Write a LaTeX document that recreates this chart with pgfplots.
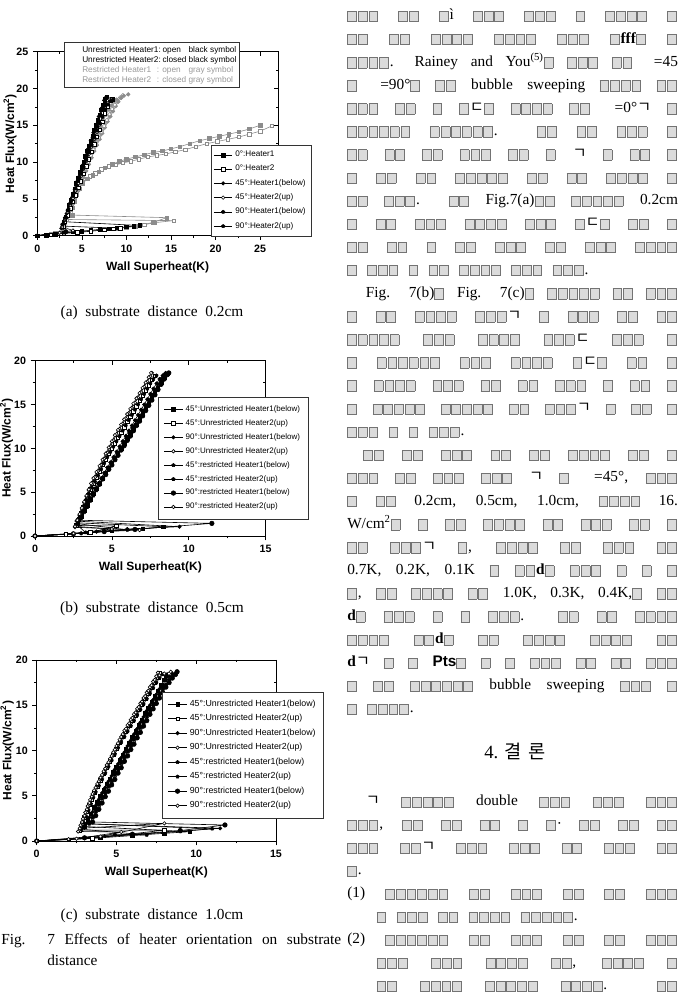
\documentclass[border=0pt]{standalone}
\usepackage{fontspec}
\setmainfont{Liberation Serif}
\setsansfont{Liberation Sans}
\newfontfamily\kr{Noto Sans CJK KR}
\usepackage{pgfplots}
\pgfplotsset{compat=1.18}
\usetikzlibrary{plotmarks}
\definecolor{gr}{gray}{0.55}
\definecolor{boxc}{gray}{0.45}
\definecolor{boxf}{gray}{0.86}
\newcommand\tb{\raisebox{-1pt}{\setlength\fboxsep{0pt}\setlength\fboxrule{0.45pt}\fcolorbox{boxc}{boxf}{\rule{0pt}{7.4pt}\hspace{6.2pt}}}\hspace{0.9pt}}
\ExplSyntaxOn
\cs_new:Npn \TT #1 { \prg_replicate:nn {#1} { \tb } }
\ExplSyntaxOff
\newcommand\cf{\fontsize{11.5}{13}\selectfont}
\newcommand\rf{\fontsize{11.5}{13}\selectfont\spaceskip=7pt plus 20pt minus 2pt\relax}
\newcommand\RL[2]{\node[anchor=base west,inner sep=0pt,font=\rf] at ({347*0.75pt},{(999-#1)*0.75pt}) {\makebox[248pt][s]{#2}};}
\newcommand\RN[2]{\node[anchor=base west,inner sep=0pt,font=\rf] at ({347*0.75pt},{(999-#1)*0.75pt}) {#2};}
\newcommand\TX[4][]{\node[inner sep=0pt,#1] at ({#2*0.75pt},{(999-#3)*0.75pt}) {#4};}
\pgfplotsset{
 base/.style={scale only axis, anchor=south west, xmin=0, ymin=0,
  axis line style={line width=0.6pt},
  tick align=outside, tick pos=left, minor tick num=1,
  major tick length=3.2pt, minor tick length=1.8pt,
  every tick/.style={black, line width=0.5pt},
  tick label style={font=\sffamily\bfseries\fontsize{8}{9}\selectfont},
  /pgf/number format/assume math mode=true,
  label style={font=\sffamily\bfseries\fontsize{9}{10}\selectfont},
  xlabel={Wall Superheat(K)}, ylabel={Heat Flux(W/cm\textsuperscript{2})},
  every axis y label/.style={at={(axis description cs:-0.118,0.5)}, rotate=90, anchor=center, font=\sffamily\bfseries\fontsize{9}{10}\selectfont},
  every axis plot/.append style={line width=0.45pt, mark size=1.3pt},
  legend cell align=left,
  legend image code/.code={\draw[mark repeat=2,mark phase=2,##1] plot coordinates {(0pt,0pt) (7pt,0pt) (14pt,0pt)};},
 },
 mirror/.style={scale only axis, anchor=south west, xmin=0, ymin=0,
  axis x line*=top, axis y line*=right, axis line style={draw=none},
  tick align=inside, minor tick num=1, major tick length=3.2pt, minor tick length=1.8pt,
  every tick/.style={black, line width=0.5pt}, xticklabels={}, yticklabels={}},
 mA/.style={mark=square*},
 mB/.style={mark=square*, mark options={fill=white}},
 mC/.style={mark=*},
 mD/.style={mark=*, mark options={fill=white}},
 mE/.style={mark=pentagon*},
 mF/.style={mark=pentagon*, mark options={fill=white}},
 mG/.style={mark=*, mark size=1.7pt},
}
\begin{document}
\begin{tikzpicture}
\path[use as bounding box] (0,0) rectangle (509.25pt,749.25pt);
% ---------------- (a) ----------------
\begin{axis}[mirror, at={(27.98pt,572.48pt)}, width=180.5pt, height=138pt, xmax=27, ymax=25, xtick={0,5,...,25}, ytick={0,5,...,25}]
\end{axis}
\begin{axis}[base, at={(27.98pt,572.48pt)}, width=180.5pt, height=138pt, xmax=27, ymax=25,
 xtick={0,5,...,25}, ytick={0,5,...,25},
 every axis y label/.append style={at={(axis description cs:-0.113,0.5)}},
 legend style={at={(0.72,0.493)}, anchor=north west, font=\sffamily\fontsize{6.1}{7}\selectfont, draw=black!80, inner xsep=2pt, inner ysep=2.5pt, row sep=0.8pt}]
% restricted (gray)
\addplot[gr, mB, forget plot] coordinates {(0,0)(1,0.1)(2,0.3)(3,0.45)(4,0.55)(5,0.65)(6,0.7)(7,0.8)(8,0.9)(9,1.0)(10,1.1)(11,1.3)(12,1.5)(13.2,1.77)(15.3,2.05)(3.3,2.2)(3.5,3.0)(3.7,4.0)(3.9,4.9)(4.1,5.7)(4.4,6.5)(4.8,7.2)(5.3,7.7)(5.9,8.1)(6.5,8.5)(7.2,9.0)(8.0,9.4)(8.8,9.6)(9.6,9.9)(10.5,10.1)(11.4,10.4)(12.4,10.7)(13.4,10.9)(14.4,11.1)(15.5,11.4)(16.6,11.7)(17.8,12.1)(19.0,12.5)(20.2,12.8)(21.4,13.1)(22.6,13.4)(23.8,13.8)(25.0,14.2)(26.3,14.9)};
\addplot[gr, mA, forget plot] coordinates {(0,0)(1.5,0.2)(3,0.4)(5,0.6)(7,0.8)(9,1.0)(11,1.3)(13,1.8)(14.5,2.45)(3.9,2.8)(4.0,3.8)(4.2,4.7)(4.4,5.6)(4.7,6.4)(5.1,7.1)(5.6,7.7)(6.2,8.2)(6.9,8.7)(7.6,9.2)(8.4,9.7)(9.2,10.1)(10.0,10.4)(11.0,10.7)(12.0,11.0)(13.0,11.3)(14.0,11.5)(15.0,11.8)(16.0,12.1)(17.1,12.5)(18.2,12.9)(19.3,13.2)(20.4,13.5)(21.5,13.8)(22.6,14.1)(23.8,14.5)(25.0,15.0)};
\addplot[gr, mD, forget plot] coordinates {(0,0)(2,0.3)(3.2,0.8)(3.0,1.4)(3.3,2.4)(3.6,3.3)(3.9,4.2)(4.2,5.1)(4.5,6.0)(4.8,6.9)(5.1,7.8)(5.4,8.7)(5.7,9.6)(6.0,10.5)(6.3,11.4)(6.6,12.3)(6.9,13.1)(7.2,13.9)(7.5,14.7)(7.8,15.5)(8.1,16.3)(8.4,17.0)(8.7,17.7)(9.0,18.3)(9.3,18.8)(9.6,19.1)};
\addplot[gr, mC, forget plot] coordinates {(0,0)(2.5,0.4)(3.1,1.6)(3.4,2.5)(3.7,3.4)(4.0,4.3)(4.3,5.2)(4.6,6.1)(4.9,7.0)(5.2,7.9)(5.5,8.8)(5.8,9.7)(6.1,10.6)(6.4,11.5)(6.7,12.3)(7.0,13.1)(7.3,13.9)(7.6,14.7)(7.9,15.5)(8.2,16.2)(8.5,16.9)(8.8,17.6)(9.1,18.2)(9.4,18.7)(9.7,19.0)(10.2,19.2)};
\addplot[gr, mE, forget plot] coordinates {(0,0)(3.0,0.5)(2.9,1.5)(3.2,2.5)(3.5,3.5)(3.8,4.5)(4.1,5.5)(4.4,6.5)(4.7,7.5)(5.0,8.5)(5.3,9.4)(5.6,10.3)(5.9,11.2)(6.2,12.1)(6.5,13.0)(6.8,13.9)(7.1,14.8)(7.4,15.6)(7.7,16.4)(8.0,17.1)(8.3,17.7)(8.6,18.2)(8.9,18.5)};
\addplot[gr, mF, forget plot] coordinates {(0,0)(3.4,0.7)(3.0,1.7)(3.3,2.7)(3.6,3.7)(3.9,4.6)(4.2,5.5)(4.5,6.4)(4.8,7.3)(5.1,8.2)(5.4,9.1)(5.7,10.0)(6.0,10.9)(6.3,11.7)(6.6,12.5)(6.9,13.3)(7.2,14.1)(7.5,14.9)(7.8,15.7)(8.1,16.5)(8.4,17.2)(8.7,17.8)};
% unrestricted (black)
\addplot[black, mA] coordinates {(0,0)(1,0.08)(2,0.2)(3,0.35)(4,0.5)(5,0.6)(6,0.72)(7,0.85)(8,0.95)(9,1.05)(10,1.2)(10.8,1.3)(11.5,1.38)(3.0,1.9)(3.2,2.6)(3.4,3.4)(3.6,4.1)(3.8,4.9)(4.0,5.6)(4.2,6.4)(4.4,7.1)(4.6,7.9)(4.8,8.6)(5.0,9.3)(5.2,10.0)(5.4,10.8)(5.6,11.5)(5.8,12.2)(6.0,12.9)(6.2,13.6)(6.4,14.3)(6.6,15.0)(6.8,15.7)(7.0,16.4)(7.2,17.1)(7.4,17.8)(7.6,18.5)(7.8,18.8)};
\addlegendentry{0°:Heater1}
\addplot[black, mB] coordinates {(0,0)(1.5,0.15)(3,0.3)(4.5,0.45)(6,0.6)(7.5,0.8)(8.5,0.9)(9.3,1.0)(2.9,1.3)(3.1,1.9)(3.4,2.8)(3.7,3.7)(4.0,4.6)(4.3,5.5)(4.6,6.5)(4.9,7.4)(5.2,8.4)(5.5,9.4)(5.8,10.4)(6.1,11.4)(6.4,12.4)(6.7,13.4)(7.0,14.4)(7.3,15.5)(7.6,16.6)(7.9,17.6)(8.2,18.4)(8.4,18.5)};
\addlegendentry{0°:Heater2}
\addplot[black, mC] coordinates {(0,0)(2,0.2)(3.3,0.5)(2.7,1.0)(3.0,2.0)(3.3,3.0)(3.6,4.1)(3.9,5.2)(4.2,6.3)(4.5,7.4)(4.8,8.5)(5.1,9.6)(5.4,10.7)(5.7,11.8)(6.0,12.9)(6.3,14.0)(6.6,15.1)(6.9,16.2)(7.2,17.3)(7.5,18.4)(7.7,18.8)};
\addlegendentry{45°:Heater1(below)}
\addplot[black, mD] coordinates {(0,0)(2.5,0.4)(4,0.7)(2.8,1.2)(3.1,2.2)(3.4,3.2)(3.7,4.2)(4.0,5.1)(4.3,6.1)(4.6,7.1)(4.9,8.1)(5.2,9.1)(5.5,10.1)(5.8,11.1)(6.1,12.1)(6.4,13.1)(6.7,14.1)(7.0,15.1)(7.3,16.1)(7.6,17.1)(7.9,18.0)(8.1,18.5)};
\addlegendentry{45°:Heater2(up)}
\addplot[black, mE] coordinates {(0,0)(3,0.4)(2.8,1.5)(3.1,2.4)(3.4,3.4)(3.7,4.4)(4.0,5.4)(4.3,6.4)(4.6,7.4)(4.9,8.4)(5.2,9.3)(5.5,10.3)(5.8,11.3)(6.1,12.3)(6.4,13.3)(6.7,14.3)(7.0,15.3)(7.3,16.2)(7.6,17.1)(7.9,17.8)(8.2,18.3)(8.5,18.5)};
\addlegendentry{90°:Heater1(below)}
\addplot[black, mE] coordinates {(0,0)(3.2,0.6)(2.9,1.6)(3.2,2.5)(3.5,3.6)(3.8,4.7)(4.1,5.8)(4.4,6.9)(4.7,8.0)(5.0,9.0)(5.3,10.1)(5.6,11.2)(5.9,12.3)(6.2,13.3)(6.5,14.4)(6.8,15.4)(7.1,16.4)(7.4,17.3)(7.6,18.0)};
\addlegendentry{90°:Heater2(up)}
\end{axis}
\draw[black!80, line width=0.5pt, fill=white] ({64*0.75pt},{(999-42)*0.75pt}) rectangle ({239*0.75pt},{(999-87)*0.75pt});
\begin{scope}[every node/.style={anchor=base west, inner sep=0pt, font=\sffamily\fontsize{6.2}{7}\selectfont}]
\node at ({82*0.75pt},{(999-53)*0.75pt}) {Unrestricted Heater1:};
\node at ({162.3*0.75pt},{(999-53)*0.75pt}) {open};
\node at ({188.3*0.75pt},{(999-53)*0.75pt}) {black symbol};
\node at ({82*0.75pt},{(999-63)*0.75pt}) {Unrestricted Heater2:};
\node at ({162.3*0.75pt},{(999-63)*0.75pt}) {closed black symbol};
\node[black!40] at ({82*0.75pt},{(999-73)*0.75pt}) {Restricted Heater1};
\node[black!40] at ({156.7*0.75pt},{(999-73)*0.75pt}) {: open};
\node[black!40] at ({188.3*0.75pt},{(999-73)*0.75pt}) {gray symbol};
\node[black!40] at ({82*0.75pt},{(999-83)*0.75pt}) {Restricted Heater2};
\node[black!40] at ({156.7*0.75pt},{(999-83)*0.75pt}) {: closed gray symbol};
\end{scope}
% ---------------- (b) ----------------
\begin{axis}[mirror, at={(26.25pt,347.25pt)}, width=173pt, height=131.5pt, xmax=15, ymax=20, xtick={0,5,10,15}, ytick={0,5,...,20}]
\end{axis}
\begin{axis}[base, at={(26.25pt,347.25pt)}, width=173pt, height=131.5pt, xmax=15, ymax=20,
 xtick={0,5,10,15}, ytick={0,5,...,20},
 every axis y label/.append style={at={(axis description cs:-0.123,0.5)}},
 legend style={at={(0.534,0.791)}, anchor=north west, font=\sffamily\fontsize{6}{7}\selectfont, draw=black!80, inner xsep=4pt, inner ysep=4pt, row sep=0.6pt}]
\addplot[black, mA] coordinates {(0,0)(2,0.2)(3.5,0.35)(5,0.6)(7,0.8)(8.35,1.06)(2.8,1.5)(3.0,2.2)(3.2,2.9)(3.4,3.5)(3.6,4.2)(3.8,4.8)(4.0,5.4)(4.2,6.0)(4.4,6.6)(4.6,7.2)(4.8,7.8)(5.0,8.3)(5.2,8.9)(5.4,9.4)(5.6,10.0)(5.8,10.5)(6.0,11.1)(6.2,11.6)(6.4,12.2)(6.6,12.7)(6.8,13.3)(7.0,13.9)(7.2,14.5)(7.4,15.1)(7.6,15.7)(7.8,16.3)(8.0,16.9)(8.2,17.5)(8.4,18.1)(8.6,18.5)};
\addlegendentry{45°:Unrestricted Heater1(below)}
\addplot[black, mB] coordinates {(0,0)(2,0.2)(3.6,0.4)(5.3,1.14)(2.7,1.2)(2.85,1.9)(3.0,2.6)(3.15,3.3)(3.3,4.0)(3.45,4.7)(3.6,5.3)(3.8,6.0)(4.0,6.7)(4.2,7.4)(4.4,8.1)(4.6,8.7)(4.8,9.4)(5.0,10.0)(5.2,10.6)(5.4,11.2)(5.6,11.8)(5.8,12.4)(6.0,13.0)(6.2,13.6)(6.4,14.2)(6.6,14.8)(6.8,15.4)(7.0,16.0)(7.2,16.6)(7.4,17.2)(7.6,17.8)(7.8,18.3)};
\addlegendentry{45°:Unrestricted Heater2(up)}
\addplot[black, mC] coordinates {(0,0)(2.5,0.25)(4,0.5)(6,0.8)(9.4,1.06)(2.7,1.7)(2.9,2.3)(3.1,3.0)(3.3,3.6)(3.5,4.2)(3.7,4.8)(3.9,5.4)(4.1,6.0)(4.3,6.6)(4.5,7.2)(4.7,7.8)(4.9,8.4)(5.1,9.0)(5.3,9.6)(5.5,10.2)(5.7,10.8)(5.9,11.4)(6.1,12.0)(6.3,12.6)(6.5,13.2)(6.7,13.8)(6.9,14.4)(7.1,15.0)(7.3,15.6)(7.5,16.2)(7.7,16.8)(7.9,17.4)(8.1,17.9)(8.3,18.3)(8.5,18.6)};
\addlegendentry{90°:Unrestricted Heater1(below)}
\addplot[black, mD] coordinates {(0,0)(3,0.3)(4.5,0.5)(6.8,0.68)(2.6,1.0)(2.75,1.7)(2.9,2.4)(3.05,3.1)(3.2,3.8)(3.35,4.5)(3.5,5.2)(3.7,5.9)(3.9,6.7)(4.1,7.4)(4.3,8.1)(4.5,8.8)(4.7,9.5)(4.9,10.2)(5.1,10.9)(5.3,11.6)(5.5,12.2)(5.7,12.8)(5.9,13.4)(6.1,14.0)(6.3,14.6)(6.5,15.2)(6.7,15.8)(6.9,16.4)(7.1,17.0)(7.3,17.6)(7.5,18.2)(7.6,18.6)};
\addlegendentry{90°:Unrestricted Heater2(up)}
\addplot[black, mE] coordinates {(0,0)(3,0.3)(5,0.6)(6,0.7)(2.8,1.4)(3.0,2.0)(3.2,2.7)(3.4,3.3)(3.6,4.0)(3.8,4.6)(4.0,5.2)(4.2,5.9)(4.4,6.5)(4.6,7.1)(4.8,7.7)(5.0,8.3)(5.2,8.9)(5.4,9.5)(5.6,10.1)(5.8,10.7)(6.0,11.3)(6.2,11.9)(6.4,12.5)(6.6,13.1)(6.8,13.7)(7.0,14.3)(7.2,14.9)(7.4,15.5)(7.6,16.1)(7.8,16.7)(8.0,17.3)(8.2,17.9)(8.4,18.4)};
\addlegendentry{45°:restricted Heater1(below)}
\addplot[black, mE] coordinates {(0,0)(3.3,0.4)(2.7,1.3)(2.85,2.0)(3.0,2.7)(3.15,3.4)(3.3,4.1)(3.5,4.8)(3.7,5.5)(3.9,6.2)(4.1,6.9)(4.3,7.6)(4.5,8.3)(4.7,9.0)(4.9,9.6)(5.1,10.2)(5.3,10.8)(5.5,11.4)(5.7,12.0)(5.9,12.6)(6.1,13.2)(6.3,13.8)(6.5,14.4)(6.7,15.0)(6.9,15.6)(7.1,16.2)(7.3,16.8)(7.5,17.4)(7.7,17.9)(7.9,18.3)};
\addlegendentry{45°:restricted Heater2(up)}
\addplot[black, mG] coordinates {(0,0)(2.5,0.25)(4.5,0.5)(6.5,0.75)(11.5,1.44)(2.8,1.8)(3.0,2.4)(3.2,3.0)(3.4,3.6)(3.6,4.2)(3.8,4.8)(4.0,5.4)(4.2,5.9)(4.4,6.5)(4.6,7.0)(4.8,7.6)(5.0,8.1)(5.2,8.7)(5.4,9.2)(5.6,9.8)(5.8,10.3)(6.0,10.9)(6.2,11.4)(6.4,12.0)(6.6,12.6)(6.8,13.1)(7.0,13.7)(7.2,14.3)(7.4,14.9)(7.6,15.5)(7.8,16.1)(8.0,16.7)(8.2,17.3)(8.4,17.9)(8.6,18.4)(8.7,18.6)};
\addlegendentry{90°:restricted Heater1(below)}
\addplot[black, mD] coordinates {(0,0)(2.5,0.3)(5.0,0.8)(2.6,1.1)(2.75,1.8)(2.9,2.5)(3.05,3.2)(3.2,3.9)(3.35,4.6)(3.5,5.3)(3.65,6.0)(3.8,6.6)(4.0,7.3)(4.2,8.0)(4.4,8.7)(4.6,9.4)(4.8,10.1)(5.0,10.8)(5.2,11.5)(5.4,12.1)(5.6,12.7)(5.8,13.3)(6.0,13.9)(6.2,14.5)(6.4,15.1)(6.6,15.7)(6.8,16.3)(7.0,16.9)(7.2,17.5)(7.4,18.1)(7.55,18.6)};
\addlegendentry{90°:restricted Heater2(up)}
\end{axis}
% ---------------- (c) ----------------
\begin{axis}[mirror, at={(27.5pt,118.5pt)}, width=179.5pt, height=135.75pt, xmax=15, ymax=20, xtick={0,5,10,15}, ytick={0,5,...,20}]
\end{axis}
\begin{axis}[base, at={(27.5pt,118.5pt)}, width=179.5pt, height=135.75pt, xmax=15, ymax=20,
 xtick={0,5,10,15}, ytick={0,5,...,20},
 every axis y label/.append style={at={(axis description cs:-0.123,0.5)}},
 legend style={at={(0.525,0.825)}, anchor=north west, font=\sffamily\fontsize{6.6}{7.5}\selectfont, draw=black!80, inner xsep=4pt, inner ysep=4pt, row sep=0.6pt}]
\addplot[black, mA] coordinates {(0,0)(2,0.15)(4,0.35)(6,0.6)(8,0.85)(9.6,1.03)(3.0,1.6)(3.2,2.3)(3.4,3.0)(3.6,3.7)(3.8,4.3)(4.0,5.0)(4.2,5.6)(4.4,6.3)(4.6,6.9)(4.8,7.6)(5.0,8.2)(5.2,8.9)(5.4,9.5)(5.6,10.2)(5.8,10.8)(6.0,11.5)(6.2,12.1)(6.4,12.8)(6.6,13.4)(6.8,14.1)(7.0,14.7)(7.2,15.4)(7.4,16.0)(7.6,16.6)(7.8,17.2)(8.0,17.8)(8.1,18.3)};
\addlegendentry{45°:Unrestricted Heater1(below)}
\addplot[black, mB] coordinates {(0,0)(3.5,0.3)(8.0,1.2)(2.7,1.2)(2.85,1.9)(3.0,2.6)(3.15,3.3)(3.3,4.0)(3.45,4.6)(3.6,5.3)(3.8,6.0)(4.0,6.7)(4.2,7.4)(4.4,8.1)(4.6,8.8)(4.8,9.5)(5.0,10.2)(5.2,10.9)(5.4,11.5)(5.6,12.1)(5.8,12.7)(6.0,13.3)(6.2,13.9)(6.4,14.5)(6.6,15.1)(6.8,15.7)(7.0,16.3)(7.2,16.9)(7.4,17.5)(7.6,18.1)(7.7,18.6)};
\addlegendentry{45°:Unrestricted Heater2(up)}
\addplot[black, mC] coordinates {(0,0)(3,0.3)(6,0.7)(9,1.1)(11.5,1.4)(3.1,1.9)(3.3,2.6)(3.5,3.2)(3.7,3.9)(3.9,4.6)(4.1,5.3)(4.3,5.9)(4.5,6.6)(4.7,7.2)(4.9,7.9)(5.1,8.5)(5.3,9.2)(5.5,9.8)(5.7,10.5)(5.9,11.1)(6.1,11.8)(6.3,12.4)(6.5,13.1)(6.7,13.7)(6.9,14.4)(7.1,15.0)(7.3,15.6)(7.5,16.2)(7.7,16.8)(7.9,17.3)(8.1,17.8)(8.3,18.2)(8.5,18.5)(8.8,18.7)};
\addlegendentry{90°:Unrestricted Heater1(below)}
\addplot[black, mD] coordinates {(0,0)(2.5,0.25)(5.3,1.0)(2.6,1.05)(2.75,1.75)(2.9,2.45)(3.05,3.15)(3.2,3.85)(3.35,4.55)(3.5,5.2)(3.7,5.9)(3.9,6.6)(4.1,7.3)(4.3,8.0)(4.5,8.7)(4.7,9.4)(4.9,10.1)(5.1,10.8)(5.3,11.5)(5.5,12.2)(5.7,12.8)(5.9,13.4)(6.1,14.0)(6.3,14.6)(6.5,15.2)(6.7,15.8)(6.9,16.4)(7.1,17.0)(7.3,17.6)(7.5,18.2)(7.6,18.6)};
\addlegendentry{90°:Unrestricted Heater2(up)}
\addplot[black, mE] coordinates {(0,0)(3,0.35)(6,0.7)(9,1.05)(11.0,1.35)(3.3,1.9)(3.5,2.6)(3.7,3.3)(3.9,4.0)(4.1,4.7)(4.3,5.3)(4.5,6.0)(4.7,6.6)(4.9,7.3)(5.1,7.9)(5.3,8.6)(5.5,9.2)(5.7,9.9)(5.9,10.5)(6.1,11.2)(6.3,11.8)(6.5,12.5)(6.7,13.1)(6.9,13.8)(7.1,14.4)(7.3,15.0)(7.5,15.6)(7.7,16.2)(7.9,16.8)(8.1,17.3)(8.3,17.8)(8.5,18.2)};
\addlegendentry{45°:restricted Heater1(below)}
\addplot[black, mE] coordinates {(0,0)(4.9,0.7)(6.9,0.66)(2.8,1.3)(2.95,2.0)(3.1,2.7)(3.25,3.4)(3.4,4.1)(3.55,4.8)(3.7,5.4)(3.9,6.1)(4.1,6.8)(4.3,7.5)(4.5,8.2)(4.7,8.9)(4.9,9.6)(5.1,10.3)(5.3,10.9)(5.5,11.5)(5.7,12.1)(5.9,12.7)(6.1,13.3)(6.3,13.9)(6.5,14.5)(6.7,15.1)(6.9,15.7)(7.1,16.3)(7.3,16.9)(7.5,17.5)(7.7,18.0)(7.9,18.4)};
\addlegendentry{45°:restricted Heater2(up)}
\addplot[black, mG] coordinates {(0,0)(3,0.35)(6,0.75)(9,1.15)(11.8,1.77)(3.5,2.1)(3.7,2.8)(3.9,3.5)(4.1,4.2)(4.3,4.9)(4.5,5.5)(4.7,6.2)(4.9,6.8)(5.1,7.5)(5.3,8.1)(5.5,8.8)(5.7,9.4)(5.9,10.1)(6.1,10.7)(6.3,11.4)(6.5,12.0)(6.7,12.7)(6.9,13.3)(7.1,14.0)(7.3,14.6)(7.5,15.2)(7.7,15.8)(7.9,16.4)(8.1,17.0)(8.3,17.5)(8.5,18.0)(8.7,18.4)(8.8,18.7)};
\addlegendentry{90°:restricted Heater1(below)}
\addplot[black, mD] coordinates {(0,0)(2,0.2)(4,0.5)(8.0,1.95)(2.7,1.4)(2.85,2.1)(3.0,2.8)(3.15,3.5)(3.3,4.2)(3.45,4.9)(3.6,5.6)(3.8,6.3)(4.0,7.0)(4.2,7.7)(4.4,8.4)(4.6,9.1)(4.8,9.8)(5.0,10.5)(5.2,11.2)(5.4,11.8)(5.6,12.4)(5.8,13.0)(6.0,13.6)(6.2,14.2)(6.4,14.8)(6.6,15.4)(6.8,16.0)(7.0,16.6)(7.2,17.2)(7.4,17.8)(7.7,18.3)(8.0,18.5)(8.4,18.7)};
\addlegendentry{90°:restricted Heater2(up)}
\end{axis}
% ---------------- captions ----------------
\TX[anchor=base, font=\cf]{152}{317}{(a)\ \ substrate\ \ distance\ \ 0.2cm}
\TX[anchor=base, font=\cf]{152}{613}{(b)\ \ substrate\ \ distance\ \ 0.5cm}
\TX[anchor=base, font=\cf]{152}{920}{(c)\ \ substrate\ \ distance\ \ 1.0cm}
\TX[anchor=base west, font=\cf]{1}{945}{\makebox[255pt][s]{Fig. 7 Effects of heater orientation on substrate}}
\TX[anchor=base west, font=\cf]{47}{966}{distance}
% ---------------- right column ----------------
\RL{20}{\TT3 \TT2 \TT1ì \TT3 \TT3 \TT1 \TT4 \TT1}
\RL{43.1}{\TT2 \TT2 \TT4 \TT4 \TT3 \TT1\textbf{fff}\TT1 \TT1}
\RL{66.2}{\TT4. Rainey and You\textsuperscript{(5)}\TT1 \TT3 \TT2 \hspace{6pt}=45}
\RL{89.3}{\TT1 \hspace{6pt}=90°\TT1 \TT2 bubble sweeping \TT4 \TT2}
\RL{112.4}{\TT3 \TT2 \TT1 \TT1{\kr ㄷ}\TT1 \TT4 \TT2 \hspace{6pt}=0°{\kr ㄱ} \TT1}
\RL{135.5}{\TT6 \TT6. \TT2 \TT2 \TT3 \TT1}
\RL{158.6}{\TT2 \TT2 \TT2 \TT3 \TT2 \TT1 {\kr ㄱ} \TT1 \TT2 \TT1}
\RL{181.7}{\TT1 \TT2 \TT2 \TT5 \TT2 \TT2 \TT4 \TT1}
\RL{204.8}{\TT2 \TT3. \TT2 Fig.7(a)\TT2 \TT5 0.2cm}
\RL{227.9}{\TT1 \TT2 \TT3 \TT4 \TT3 \TT1{\kr ㄷ}\TT1 \TT2 \TT1}
\RL{251}{\TT2 \TT2 \TT1 \TT2 \TT3 \TT2 \TT3 \TT4}
\RN{274.1}{\TT1 \TT3 \TT1 \TT2 \TT4 \TT3 \TT3.}
\RL{297.2}{\hspace{14pt}Fig. 7(b)\TT1 Fig. 7(c)\TT1 \TT5 \TT2 \TT3}
\RL{320.3}{\TT1 \TT2 \TT4 \TT3{\kr ㄱ} \TT1 \TT3 \TT2 \TT2}
\RL{343.4}{\TT5 \TT3 \TT4 \TT3{\kr ㄷ} \TT3 \TT1}
\RL{366.5}{\TT1 \TT6 \TT3 \TT4 \TT1{\kr ㄷ}\TT1 \TT2 \TT1}
\RL{389.6}{\TT1 \TT4 \TT3 \TT2 \TT2 \TT3 \TT1 \TT2 \TT1}
\RL{412.7}{\TT1 \TT5 \TT5 \TT2 \TT3{\kr ㄱ} \TT1 \TT2 \TT1}
\RN{435.8}{\TT3 \TT1 \TT1 \TT3.}
\RL{458.9}{\hspace{12pt}\TT2 \TT2 \TT3 \TT2 \TT2 \TT4 \TT2 \TT1}
\RL{482}{\TT3 \TT2 \TT3 \TT3 {\kr ㄱ} \TT1 \hspace{6pt}=45°, \TT3}
\RL{505.1}{\TT1 \TT2 0.2cm, 0.5cm, 1.0cm, \TT4 16.}
\RL{528.2}{W/cm\textsuperscript{2}\TT1 \TT1 \TT2 \TT4 \TT2 \TT3 \TT2 \TT1}
\RL{551.3}{\TT2 \TT3{\kr ㄱ} \TT1, \TT4 \TT2 \TT3 \TT2}
\RL{574.4}{0.7K, 0.2K, 0.1K \TT1 \TT2\textbf{d}\TT1 \TT3 \TT1 \TT1 \TT1}
\RL{597.5}{\TT1, \TT2 \TT4 \TT2 1.0K, 0.3K, 0.4K,\TT1 \TT2}
\RL{620.6}{\textbf{d}\TT1 \TT3 \TT1 \TT1 \TT3. \TT2 \TT2 \TT4}
\RL{643.7}{\TT4 \TT2\textbf{d}\TT1 \TT2 \TT4 \TT4 \TT2}
\RL{666.8}{\textbf{d}{\kr ㄱ} \TT1 \TT1 {\sffamily\bfseries Pts}\TT1 \TT1 \TT1 \TT3 \TT2 \TT2 \TT3}
\RL{689.9}{\TT1 \TT2 \TT6 bubble sweeping \TT3 \TT1}
\RN{713}{\TT1 \TT4.}
\TX[anchor=base, font=\fontsize{14}{16}\selectfont]{515}{759}{4. {\kr 결\hspace{5pt}론}}
\RL{806}{\hspace{14pt}{\kr ㄱ} \TT5 double \TT3 \TT3 \TT3}
\RL{829}{\TT3, \TT2 \TT2 \TT2 \TT1 \TT1· \TT2 \TT2 \TT2}
\RL{852}{\TT3 \TT2{\kr ㄱ} \TT3 \TT3 \TT2 \TT3 \TT2}
\RN{875}{\TT1.}
\RL{898}{(1) \TT6 \TT2 \TT3 \TT2 \TT2 \TT3}
\RN{921}{\hspace{22pt}\TT1 \TT3 \TT2 \TT4 \TT5.}
\RL{944}{(2) \TT6 \TT2 \TT3 \TT2 \TT2 \TT3}
\RL{967}{\hspace{22pt}\TT3 \TT3 \TT4 \TT2, \TT4 \TT1}
\RL{990}{\hspace{22pt}\TT2 \TT4 \TT5 \TT4. \TT2}
\end{tikzpicture}
\end{document}
